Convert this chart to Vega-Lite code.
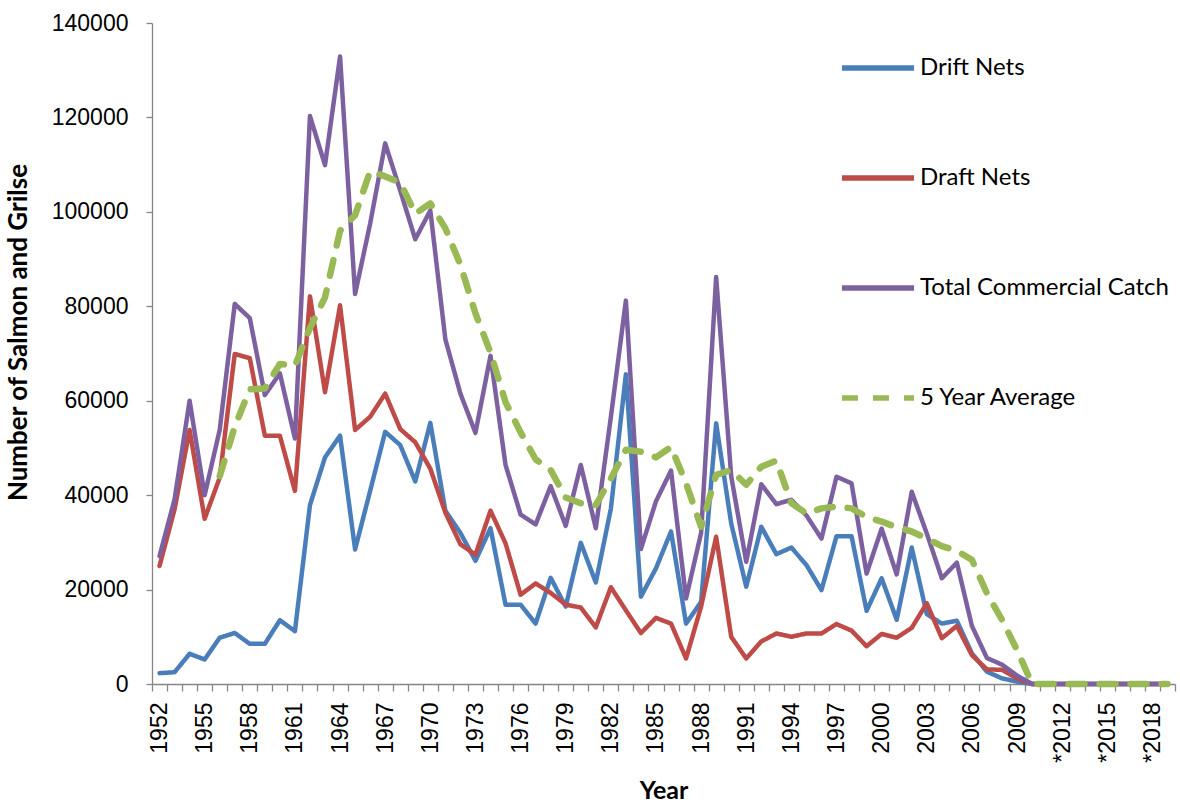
{
  "$schema": "https://vega.github.io/schema/vega-lite/v6.json",
  "autosize": {"type": "none"},
  "padding": {"left": 152, "top": 23, "right": 5, "bottom": 118},
  "width": 1023,
  "height": 661,
  "background": "white",
  "config": {
    "view": {"stroke": null},
    "axis": {"domainColor": "#868686", "tickColor": "#868686", "domainWidth": 1.3, "tickWidth": 1.3, "labelColor": "#000000", "titleColor": "#000000", "grid": false}
  },
  "data": {"values": [
    {"Year": 1952, "Drift Nets": 2300, "Draft Nets": 25000, "Total Commercial Catch": 27100, "5 Year Average": null},
    {"Year": 1953, "Drift Nets": 2500, "Draft Nets": 37000, "Total Commercial Catch": 39100, "5 Year Average": null},
    {"Year": 1954, "Drift Nets": 6400, "Draft Nets": 53800, "Total Commercial Catch": 60000, "5 Year Average": null},
    {"Year": 1955, "Drift Nets": 5200, "Draft Nets": 35000, "Total Commercial Catch": 40000, "5 Year Average": null},
    {"Year": 1956, "Drift Nets": 9800, "Draft Nets": 43700, "Total Commercial Catch": 53800, "5 Year Average": 44000},
    {"Year": 1957, "Drift Nets": 10800, "Draft Nets": 69900, "Total Commercial Catch": 80500, "5 Year Average": 54500},
    {"Year": 1958, "Drift Nets": 8500, "Draft Nets": 69000, "Total Commercial Catch": 77500, "5 Year Average": 62400},
    {"Year": 1959, "Drift Nets": 8500, "Draft Nets": 52600, "Total Commercial Catch": 61200, "5 Year Average": 62600},
    {"Year": 1960, "Drift Nets": 13500, "Draft Nets": 52600, "Total Commercial Catch": 65800, "5 Year Average": 67800},
    {"Year": 1961, "Drift Nets": 11200, "Draft Nets": 40900, "Total Commercial Catch": 52000, "5 Year Average": 67400},
    {"Year": 1962, "Drift Nets": 37900, "Draft Nets": 82100, "Total Commercial Catch": 120300, "5 Year Average": 75400},
    {"Year": 1963, "Drift Nets": 48000, "Draft Nets": 61800, "Total Commercial Catch": 109900, "5 Year Average": 81900},
    {"Year": 1964, "Drift Nets": 52600, "Draft Nets": 80200, "Total Commercial Catch": 132900, "5 Year Average": 96000},
    {"Year": 1965, "Drift Nets": 28500, "Draft Nets": 53800, "Total Commercial Catch": 82600, "5 Year Average": 99300},
    {"Year": 1966, "Drift Nets": 40900, "Draft Nets": 56600, "Total Commercial Catch": 97500, "5 Year Average": 108600},
    {"Year": 1967, "Drift Nets": 53400, "Draft Nets": 61500, "Total Commercial Catch": 114500, "5 Year Average": 107500},
    {"Year": 1968, "Drift Nets": 50600, "Draft Nets": 54000, "Total Commercial Catch": 104500, "5 Year Average": 106200},
    {"Year": 1969, "Drift Nets": 42900, "Draft Nets": 51200, "Total Commercial Catch": 94200, "5 Year Average": 99600},
    {"Year": 1970, "Drift Nets": 55300, "Draft Nets": 45600, "Total Commercial Catch": 100300, "5 Year Average": 101800},
    {"Year": 1971, "Drift Nets": 36700, "Draft Nets": 36300, "Total Commercial Catch": 73000, "5 Year Average": 96500},
    {"Year": 1972, "Drift Nets": 32000, "Draft Nets": 29600, "Total Commercial Catch": 61500, "5 Year Average": 88800},
    {"Year": 1973, "Drift Nets": 26100, "Draft Nets": 27400, "Total Commercial Catch": 53200, "5 Year Average": 78500},
    {"Year": 1974, "Drift Nets": 33000, "Draft Nets": 36700, "Total Commercial Catch": 69500, "5 Year Average": 70200},
    {"Year": 1975, "Drift Nets": 16800, "Draft Nets": 29800, "Total Commercial Catch": 46400, "5 Year Average": 59700},
    {"Year": 1976, "Drift Nets": 16800, "Draft Nets": 18900, "Total Commercial Catch": 35900, "5 Year Average": 53300},
    {"Year": 1977, "Drift Nets": 12800, "Draft Nets": 21300, "Total Commercial Catch": 33800, "5 Year Average": 47600},
    {"Year": 1978, "Drift Nets": 22500, "Draft Nets": 19300, "Total Commercial Catch": 41900, "5 Year Average": 45300},
    {"Year": 1979, "Drift Nets": 16400, "Draft Nets": 16800, "Total Commercial Catch": 33500, "5 Year Average": 39500},
    {"Year": 1980, "Drift Nets": 29900, "Draft Nets": 16200, "Total Commercial Catch": 46400, "5 Year Average": 38300},
    {"Year": 1981, "Drift Nets": 21500, "Draft Nets": 12000, "Total Commercial Catch": 33000, "5 Year Average": 37900},
    {"Year": 1982, "Drift Nets": 37100, "Draft Nets": 20500, "Total Commercial Catch": 56500, "5 Year Average": 43500},
    {"Year": 1983, "Drift Nets": 65600, "Draft Nets": 15600, "Total Commercial Catch": 81200, "5 Year Average": 49600},
    {"Year": 1984, "Drift Nets": 18500, "Draft Nets": 10800, "Total Commercial Catch": 28600, "5 Year Average": 49200},
    {"Year": 1985, "Drift Nets": 24500, "Draft Nets": 14000, "Total Commercial Catch": 38700, "5 Year Average": 48000},
    {"Year": 1986, "Drift Nets": 32300, "Draft Nets": 12800, "Total Commercial Catch": 45200, "5 Year Average": 50200},
    {"Year": 1987, "Drift Nets": 12800, "Draft Nets": 5400, "Total Commercial Catch": 18100, "5 Year Average": 42500},
    {"Year": 1988, "Drift Nets": 17400, "Draft Nets": 16400, "Total Commercial Catch": 32000, "5 Year Average": 33300},
    {"Year": 1989, "Drift Nets": 55200, "Draft Nets": 31200, "Total Commercial Catch": 86200, "5 Year Average": 44300},
    {"Year": 1990, "Drift Nets": 34000, "Draft Nets": 10000, "Total Commercial Catch": 44000, "5 Year Average": 45300},
    {"Year": 1991, "Drift Nets": 20600, "Draft Nets": 5400, "Total Commercial Catch": 25900, "5 Year Average": 42200},
    {"Year": 1992, "Drift Nets": 33300, "Draft Nets": 9000, "Total Commercial Catch": 42300, "5 Year Average": 46000},
    {"Year": 1993, "Drift Nets": 27500, "Draft Nets": 10700, "Total Commercial Catch": 38100, "5 Year Average": 47300},
    {"Year": 1994, "Drift Nets": 28900, "Draft Nets": 10000, "Total Commercial Catch": 39000, "5 Year Average": 38300},
    {"Year": 1995, "Drift Nets": 25200, "Draft Nets": 10700, "Total Commercial Catch": 35700, "5 Year Average": 36100},
    {"Year": 1996, "Drift Nets": 19900, "Draft Nets": 10700, "Total Commercial Catch": 30800, "5 Year Average": 37200},
    {"Year": 1997, "Drift Nets": 31300, "Draft Nets": 12700, "Total Commercial Catch": 43900, "5 Year Average": 37600},
    {"Year": 1998, "Drift Nets": 31300, "Draft Nets": 11300, "Total Commercial Catch": 42500, "5 Year Average": 37200},
    {"Year": 1999, "Drift Nets": 15500, "Draft Nets": 8000, "Total Commercial Catch": 23400, "5 Year Average": 35400},
    {"Year": 2000, "Drift Nets": 22400, "Draft Nets": 10600, "Total Commercial Catch": 32900, "5 Year Average": 34400},
    {"Year": 2001, "Drift Nets": 13600, "Draft Nets": 9800, "Total Commercial Catch": 23200, "5 Year Average": 33200},
    {"Year": 2002, "Drift Nets": 28900, "Draft Nets": 11900, "Total Commercial Catch": 40700, "5 Year Average": 32300},
    {"Year": 2003, "Drift Nets": 14800, "Draft Nets": 17100, "Total Commercial Catch": 31900, "5 Year Average": 30800},
    {"Year": 2004, "Drift Nets": 12800, "Draft Nets": 9700, "Total Commercial Catch": 22400, "5 Year Average": 29200},
    {"Year": 2005, "Drift Nets": 13400, "Draft Nets": 12300, "Total Commercial Catch": 25700, "5 Year Average": 28200},
    {"Year": 2006, "Drift Nets": 6500, "Draft Nets": 6100, "Total Commercial Catch": 12300, "5 Year Average": 26300},
    {"Year": 2007, "Drift Nets": 2600, "Draft Nets": 3100, "Total Commercial Catch": 5500, "5 Year Average": 19200},
    {"Year": 2008, "Drift Nets": 1200, "Draft Nets": 3000, "Total Commercial Catch": 4100, "5 Year Average": 13600},
    {"Year": 2009, "Drift Nets": 500, "Draft Nets": 1200, "Total Commercial Catch": 1800, "5 Year Average": 7200},
    {"Year": 2010, "Drift Nets": 0, "Draft Nets": 0, "Total Commercial Catch": 0, "5 Year Average": 0},
    {"Year": 2011, "Drift Nets": 0, "Draft Nets": 0, "Total Commercial Catch": 0, "5 Year Average": 0},
    {"Year": 2012, "Drift Nets": 0, "Draft Nets": 0, "Total Commercial Catch": 0, "5 Year Average": 0},
    {"Year": 2013, "Drift Nets": 0, "Draft Nets": 0, "Total Commercial Catch": 0, "5 Year Average": 0},
    {"Year": 2014, "Drift Nets": 0, "Draft Nets": 0, "Total Commercial Catch": 0, "5 Year Average": 0},
    {"Year": 2015, "Drift Nets": 0, "Draft Nets": 0, "Total Commercial Catch": 0, "5 Year Average": 0},
    {"Year": 2016, "Drift Nets": 0, "Draft Nets": 0, "Total Commercial Catch": 0, "5 Year Average": 0},
    {"Year": 2017, "Drift Nets": 0, "Draft Nets": 0, "Total Commercial Catch": 0, "5 Year Average": 0},
    {"Year": 2018, "Drift Nets": 0, "Draft Nets": 0, "Total Commercial Catch": 0, "5 Year Average": 0},
    {"Year": 2019, "Drift Nets": 0, "Draft Nets": 0, "Total Commercial Catch": 0, "5 Year Average": 0}
  ]},
  "transform": [
    {"fold": ["Drift Nets", "Draft Nets", "Total Commercial Catch", "5 Year Average"], "as": ["series", "value"]}
  ],
  "encoding": {
    "x": {
      "field": "Year", "type": "ordinal", "bandPosition": 0.5,
      "scale": {"type": "band", "paddingInner": 0, "paddingOuter": 0},
      "axis": {
        "title": "Year", "titleFont": "Lato", "titleFontWeight": "bold", "titleFontSize": 25,
        "titleY": 114, "titleBaseline": "alphabetic",
        "tickBand": "extent", "tickSize": 7, "labelPadding": 11,
        "labelAngle": -90, "labelFont": "Liberation Sans", "labelFontSize": 23,
        "labelOverlap": false, "labelFlush": false,
        "labelExpr": "(+datum.value - 1952) % 3 == 0 ? (+datum.value >= 2010 ? '*' + datum.value : '' + datum.value) : ''"
      }
    },
    "y": {
      "field": "value", "type": "quantitative",
      "scale": {"domain": [0, 140000], "nice": false},
      "axis": {
        "title": "Number of Salmon and Grilse", "titleFont": "Lato", "titleFontWeight": "bold", "titleFontSize": 26,
        "titleX": -134, "titleY": 309, "titleBaseline": "middle", "titleAlign": "center", "titleAngle": -90,
        "values": [0, 20000, 40000, 60000, 80000, 100000, 120000, 140000], "format": "d",
        "tickSize": 6, "labelPadding": 18, "labelFont": "Liberation Sans", "labelFontSize": 23
      }
    },
    "color": {
      "field": "series", "type": "nominal",
      "scale": {"domain": ["Drift Nets", "Draft Nets", "Total Commercial Catch", "5 Year Average"], "range": ["#4A7EBB", "#BE4B48", "#7D60A0", "#98B954"]},
      "legend": {
        "orient": "none", "legendX": 687, "legendY": 33, "direction": "vertical", "title": null,
        "symbolType": "stroke", "symbolSize": 5200, "symbolStrokeWidth": 5.5,
        "labelFont": "Lato", "labelFontSize": 24, "labelColor": "#000000", "labelOffset": 3,
        "rowPadding": 86, "clipHeight": 24, "padding": 0, "labelLimit": 400
      }
    },
    "strokeDash": {
      "field": "series", "type": "nominal",
      "scale": {"domain": ["Drift Nets", "Draft Nets", "Total Commercial Catch", "5 Year Average"], "range": [[1, 0], [1, 0], [1, 0], [16, 15]]},
      "legend": {
        "orient": "none", "legendX": 687, "legendY": 33, "direction": "vertical", "title": null,
        "symbolType": "stroke", "symbolSize": 5200, "symbolStrokeWidth": 5.5,
        "labelFont": "Lato", "labelFontSize": 24, "labelColor": "#000000", "labelOffset": 3,
        "rowPadding": 86, "clipHeight": 24, "padding": 0, "labelLimit": 400
      }
    }
  },
  "layer": [
    {
      "transform": [{"filter": "datum.series != '5 Year Average'"}],
      "mark": {"type": "line", "strokeCap": "round", "strokeJoin": "round", "strokeWidth": 4.5}
    },
    {
      "transform": [{"filter": "datum.series == '5 Year Average'"}],
      "mark": {"type": "line", "strokeCap": "round", "strokeJoin": "round", "strokeWidth": 6.5}
    }
  ]
}
